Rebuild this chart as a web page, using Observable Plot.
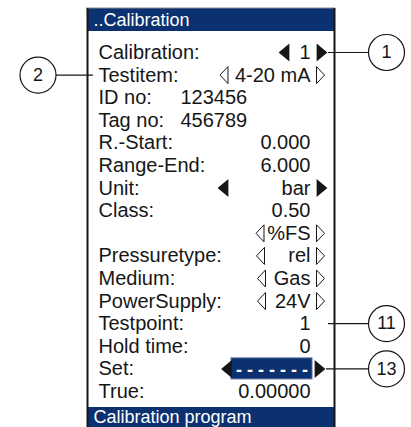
<!DOCTYPE html>
<html><head><meta charset="utf-8">
<script src="https://cdn.jsdelivr.net/npm/d3@7"></script>
<script src="https://cdn.jsdelivr.net/npm/@observablehq/plot@0.6"></script>
<style>body{margin:0;background:#fff}</style></head>
<body><div id="chart"></div>
<script>
// ---- data ----
const headerTitle = "..Calibration";
const footerTitle = "Calibration program";
const rowLabels = ["Calibration:", "Testitem:", "ID no:", "Tag no:", "R.-Start:", "Range-End:", "Unit:", "Class:", "", "Pressuretype:", "Medium:", "PowerSupply:", "Testpoint:", "Hold time:", "Set:", "True:"];
const rowValues = ["1", "4-20 mA", "123456", "456789", "0.000", "6.000", "bar", "0.50", "%FS", "rel", "Gas", "24V", "1", "0", "- - - - - - -", "0.00000"];
const rowArrows = ["filled", "outline", null, null, null, null, "filled", null, "outline", "outline", "outline", "outline", null, null, "filled", null];
const calloutNumbers = ["1", "2", "11", "13"];
const calloutRows = [0, 1, 12, 14];
const calloutSides = ["right", "left", "right", "right"];

// ---- layout ----
const L = {
  left: 87, right: 334, top: 8, headerBottom: 31, footerTop: 407, bottom: 427,
  row0: 52, rowStep: 22.6, labelX: 98, valueX: 310, startValueX: 180, titleX: 93,
  leftArrowX: {0: 283.5, 1: 223.5, 6: 222.5, 8: 259.5, 9: 260, 10: 261, 11: 261, 14: 226},
  rightArrowX: {filled: 321.5, outline: 320},
  setBox: [231, 312], setHalfH: 10.5,
  circleRightX: 386, circleLeftX: 37.5, circleR: 18
};
const navy = "#0c3170";
const ink = "#161616";
const rowY = i => L.row0 + L.rowStep * i;

const rows = rowLabels.map((label, i) => ({i, label, value: rowValues[i], arrow: rowArrows[i], y: rowY(i)}));

// custom triangle symbols
const tri = (dir, ratio) => ({draw(c, s) {
  const r = Math.sqrt(s / Math.PI), w = ratio * r * dir;
  c.moveTo(-w, -r); c.lineTo(w, 0); c.lineTo(-w, r); c.closePath();
}});
const filledR = tri(1, 0.6), filledL = tri(-1, 0.6);
const outR = tri(1, 0.47), outL = tri(-1, 0.47);

const arrowRows = rows.filter(d => d.arrow);
const filledRows = arrowRows.filter(d => d.arrow === "filled");
const outlineRows = arrowRows.filter(d => d.arrow === "outline");

const callouts = calloutNumbers.map((n, k) => {
  const side = calloutSides[k], y = rowY(calloutRows[k]);
  const cx = side === "right" ? L.circleRightX : L.circleLeftX;
  return {n, y, cx,
    x1: side === "right" ? (calloutRows[k] === 14 ? 326 : 328) : cx + L.circleR,
    x2: side === "right" ? cx - L.circleR : L.labelX - 5};
});

const valueRows = rows.filter(d => d.i !== 2 && d.i !== 3 && d.i !== 14);
const startRows = rows.filter(d => d.i === 2 || d.i === 3);
const setRow = rows.filter(d => d.i === 14);
const one = [0];

const chart = Plot.plot({
  width: 411, height: 427, margin: 0,
  x: {domain: [0, 411], range: [0, 411], axis: null},
  y: {domain: [0, 427], range: [0, 427], axis: null},
  style: {background: "white", fontFamily: "'Liberation Sans', Arial, Helvetica, sans-serif"},
  marks: [
    // header & footer bars
    Plot.rect(one, {x1: () => L.left, x2: () => L.right + 1, y1: () => L.top, y2: () => L.headerBottom, fill: navy}),
    Plot.rect(one, {x1: () => L.left, x2: () => L.right + 1, y1: () => L.footerTop, y2: () => L.bottom, fill: navy}),
    Plot.ruleY(one, {y: () => L.top - 0.5, x1: () => L.left - 1, x2: () => L.right + 1, stroke: "#8c8c8c", strokeWidth: 1}),
    // frame sides
    Plot.ruleX([L.left, L.right], {x: d => d, y1: () => L.top, y2: () => L.bottom, stroke: ink, strokeWidth: 2}),
    // titles
    Plot.text([headerTitle], {x: () => L.titleX, y: () => 19.5, text: d => d, textAnchor: "start", fill: "white", fontSize: 18}),
    Plot.text([footerTitle], {x: () => L.titleX, y: () => 416.5, text: d => d, textAnchor: "start", fill: "white", fontSize: 18}),
    // labels
    Plot.text(rows.filter(d => d.label), {x: () => L.labelX, y: "y", text: "label", textAnchor: "start", fontSize: 20, fill: ink}),
    // values
    Plot.text(valueRows, {x: () => L.valueX, y: "y", text: "value", textAnchor: "end", fontSize: 20, fill: ink}),
    Plot.text(startRows, {x: () => L.startValueX, y: "y", text: "value", textAnchor: "start", fontSize: 20, fill: ink}),
    // Set box
    Plot.rect(setRow, {x1: () => L.setBox[0], x2: () => L.setBox[1], y1: d => d.y - L.setHalfH, y2: d => d.y + L.setHalfH, fill: navy, stroke: "#5a6f96", strokeWidth: 1}),
    Plot.text(setRow, {x: () => (L.setBox[0] + L.setBox[1]) / 2, y: d => d.y + 1, text: "value", fill: "white", fontSize: 18, fontWeight: "bold"}),
    // arrows
    Plot.dot(filledRows, {x: d => L.leftArrowX[d.i], y: "y", r: 9, symbol: filledL, fill: ink, stroke: "none"}),
    Plot.dot(filledRows, {x: d => d.i === 14 ? 319.5 : L.rightArrowX.filled, y: "y", r: 9, symbol: filledR, fill: ink, stroke: "none"}),
    Plot.dot(outlineRows, {x: d => L.leftArrowX[d.i], y: "y", r: 8.5, symbol: outL, fill: "white", stroke: ink, strokeWidth: 1}),
    Plot.dot(outlineRows, {x: () => L.rightArrowX.outline, y: "y", r: 8.5, symbol: outR, fill: "white", stroke: ink, strokeWidth: 1}),
    // callouts
    Plot.ruleY(callouts, {y: "y", x1: "x1", x2: "x2", stroke: ink, strokeWidth: 1.2}),
    Plot.dot(callouts, {x: "cx", y: "y", r: L.circleR, fill: "white", stroke: ink, strokeWidth: 1.2}),
    Plot.text(callouts, {x: "cx", y: "y", text: "n", fontSize: 18, fill: ink})
  ]
});
document.getElementById("chart").appendChild(chart);
</script>
</body></html>
